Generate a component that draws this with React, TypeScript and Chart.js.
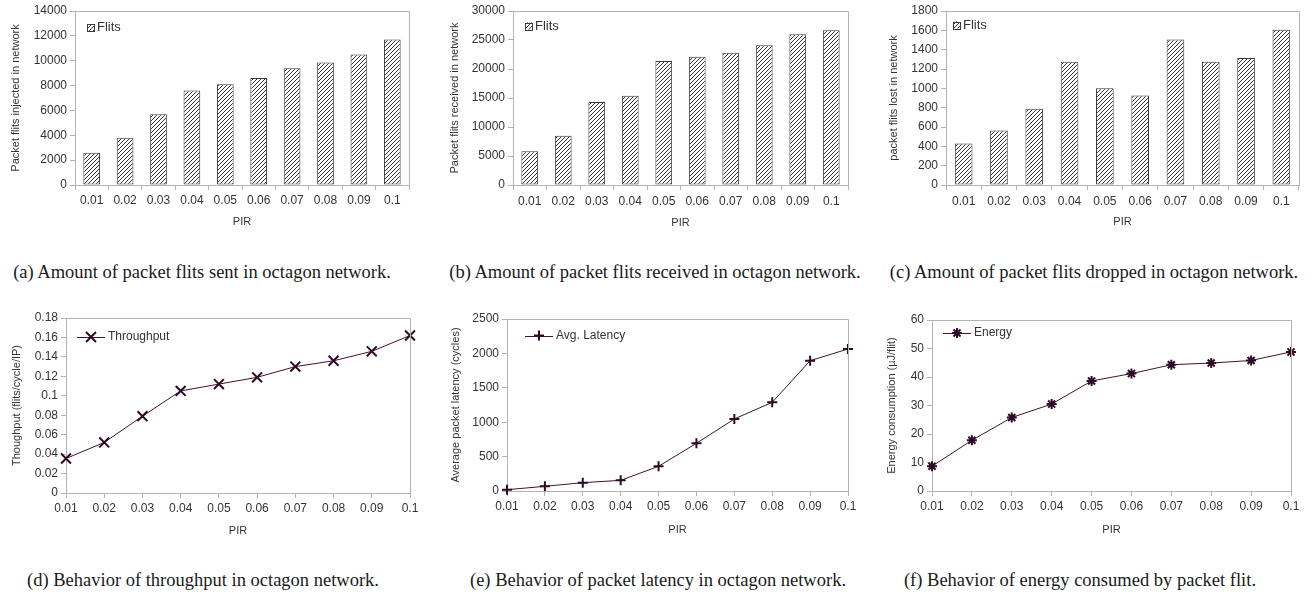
import React, { useEffect, useRef } from 'react';
import { Chart, registerables } from 'chart.js';

Chart.register(...registerables);

// ---------------- data ----------------
const PIR_LABELS = ['0.01', '0.02', '0.03', '0.04', '0.05', '0.06', '0.07', '0.08', '0.09', '0.1'];
const FLITS_SENT = [2600, 3800, 5700, 7600, 8100, 8600, 9400, 9850, 10500, 11700];
const FLITS_RECEIVED = [5800, 8500, 14300, 15400, 21400, 22100, 22800, 24100, 26000, 26700];
const FLITS_DROPPED = [430, 565, 790, 1275, 1000, 925, 1505, 1275, 1315, 1605];
const THROUGHPUT = [0.0355, 0.052, 0.079, 0.105, 0.112, 0.119, 0.13, 0.136, 0.1457, 0.162];
const LATENCY = [19, 68, 121, 155, 359, 693, 1047, 1289, 1894, 2064];
const ENERGY = [8.7, 17.8, 25.8, 30.5, 38.6, 41.2, 44.3, 44.9, 45.8, 48.8];

const CAPTIONS = [
  '(a) Amount of packet flits sent in octagon network.',
  '(b) Amount of packet flits received in octagon network.',
  '(c) Amount of packet flits dropped in octagon network.',
  '(d) Behavior of throughput in octagon network.',
  '(e) Behavior of packet latency in octagon network.',
  '(f) Behavior of energy consumed by packet flit.',
];

// ---------------- style ----------------
const FONT = '"Liberation Sans", Arial, sans-serif';
const SERIF = '"Liberation Serif", "Times New Roman", serif';
const TXT = '#333333';
const AXIS = '#b3b3b3';
const BAR_EDGE = '#3a3a3a';
const LINE = '#3d1432';
const MARK = '#2e0a24';

type Box = { x: number; y: number; w: number; h: number };
type Plot = { l: number; t: number; r: number; b: number };
type Spec = {
  kind: 'bar' | 'line';
  data: number[];
  label: string;
  yTitle: string;
  yMax: number;
  yStep: number;
  marker?: 'crossRot' | 'cross' | 'star';
  markerRadius?: number;
  legendSize: number;
  canvas: Box;
  plot: Plot;
  yTitleX: number;
  xLabelY: number;
  xTitleY: number;
  legend: { x: number; y: number };
};

const SPECS: Spec[] = [
  {
    kind: 'bar', data: FLITS_SENT, label: 'Flits', yTitle: 'Packet flits injected in network',
    yMax: 14000, yStep: 2000, legendSize: 13,
    canvas: { x: 0, y: 0, w: 425, h: 240 }, plot: { l: 75, t: 11, r: 409, b: 185 },
    yTitleX: 16, xLabelY: 201, xTitleY: 222, legend: { x: 87, y: 27.5 },
  },
  {
    kind: 'bar', data: FLITS_RECEIVED, label: 'Flits', yTitle: 'Packet flits received in network',
    yMax: 30000, yStep: 5000, legendSize: 13,
    canvas: { x: 430, y: 0, w: 432, h: 240 }, plot: { l: 513, t: 11, r: 848, b: 185 },
    yTitleX: 455, xLabelY: 201.5, xTitleY: 223, legend: { x: 525, y: 26 },
  },
  {
    kind: 'bar', data: FLITS_DROPPED, label: 'Flits', yTitle: 'packet flits lost in network',
    yMax: 1800, yStep: 200, legendSize: 13,
    canvas: { x: 870, y: 0, w: 442, h: 240 }, plot: { l: 946, t: 11, r: 1299, b: 185 },
    yTitleX: 893.5, xLabelY: 201.5, xTitleY: 222, legend: { x: 953, y: 25 },
  },
  {
    kind: 'line', data: THROUGHPUT, label: 'Throughput', yTitle: 'Thoughput (flits/cycle/IP)',
    yMax: 0.18, yStep: 0.02, marker: 'crossRot', markerRadius: 7, legendSize: 12,
    canvas: { x: 0, y: 300, w: 425, h: 245 }, plot: { l: 66, t: 318, r: 410, b: 493 },
    yTitleX: 16.5, xLabelY: 509, xTitleY: 530.5, legend: { x: 77, y: 337 },
  },
  {
    kind: 'line', data: LATENCY, label: 'Avg. Latency', yTitle: 'Average packet latency (cycles)',
    yMax: 2500, yStep: 500, marker: 'cross', markerRadius: 5, legendSize: 12,
    canvas: { x: 430, y: 300, w: 432, h: 245 }, plot: { l: 507, t: 319, r: 848, b: 491 },
    yTitleX: 455.5, xLabelY: 507, xTitleY: 529.5, legend: { x: 525, y: 335.5 },
  },
  {
    kind: 'line', data: ENERGY, label: 'Energy', yTitle: 'Energy consumption (µJ/flit)',
    yMax: 60, yStep: 10, marker: 'star', markerRadius: 5, legendSize: 12,
    canvas: { x: 870, y: 300, w: 442, h: 245 }, plot: { l: 932, t: 320, r: 1291, b: 491 },
    yTitleX: 892, xLabelY: 507, xTitleY: 529.5, legend: { x: 943, y: 333 },
  },
];

const CAPTION_POS = [
  { cx: 202, cy: 272 },
  { cx: 655, cy: 272 },
  { cx: 1094, cy: 272 },
  { cx: 203, cy: 580 },
  { cx: 658, cy: 580 },
  { cx: 1080, cy: 580 },
];

function makeHatch(): CanvasPattern | string {
  const s = 4;
  const c = document.createElement('canvas');
  c.width = s;
  c.height = s;
  const g = c.getContext('2d');
  if (!g) return '#ffffff';
  g.fillStyle = '#ffffff';
  g.fillRect(0, 0, s, s);
  g.strokeStyle = '#333333';
  g.lineWidth = 1;
  g.beginPath();
  g.moveTo(0, s);
  g.lineTo(s, 0);
  g.moveTo(-1, 1);
  g.lineTo(1, -1);
  g.moveTo(s - 1, s + 1);
  g.lineTo(s + 1, s - 1);
  g.stroke();
  return g.createPattern(c, 'repeat') || '#ffffff';
}

function drawMarker(ctx: CanvasRenderingContext2D, style: string, x: number, y: number, r: number) {
  ctx.beginPath();
  if (style === 'cross' || style === 'star') {
    ctx.moveTo(x - r, y);
    ctx.lineTo(x + r, y);
    ctx.moveTo(x, y - r);
    ctx.lineTo(x, y + r);
  }
  if (style === 'crossRot' || style === 'star') {
    const d = r * Math.SQRT1_2;
    ctx.moveTo(x - d, y - d);
    ctx.lineTo(x + d, y + d);
    ctx.moveTo(x + d, y - d);
    ctx.lineTo(x - d, y + d);
  }
  ctx.stroke();
}

function fmt(v: number | string): string {
  return String(parseFloat(Number(v).toFixed(4)));
}

function buildConfig(spec: Spec, hatch: CanvasPattern | string): any {
  const { canvas, plot } = spec;
  const yW = plot.l - canvas.x;
  const xH = canvas.y + canvas.h - plot.b;
  const tickLen = 5;
  const xTickPad = spec.xLabelY - plot.b - tickLen - 7.2;
  const yTitlePad = spec.yTitleX - canvas.x - 6.6;
  const xTitlePad = canvas.y + canvas.h - spec.xTitleY - 6.6;
  const isBar = spec.kind === 'bar';

  const decor = {
    id: 'panelDecor',
    afterDraw(chart: any) {
      const ctx: CanvasRenderingContext2D = chart.ctx;
      const a = chart.chartArea;
      ctx.save();
      ctx.strokeStyle = AXIS;
      ctx.lineWidth = 1;
      const t = Math.round(a.top) + 0.5;
      const r = Math.round(a.right) + 0.5;
      ctx.beginPath();
      ctx.moveTo(Math.round(a.left), t);
      ctx.lineTo(r, t);
      ctx.lineTo(r, Math.round(a.bottom));
      ctx.stroke();

      const lx = spec.legend.x - canvas.x;
      const ly = spec.legend.y - canvas.y;
      ctx.font = `${spec.legendSize}px ${FONT}`;
      ctx.textBaseline = 'middle';
      ctx.textAlign = 'left';
      if (isBar) {
        ctx.fillStyle = hatch as any;
        ctx.fillRect(lx, ly - 3.5, 7, 7);
        ctx.strokeStyle = BAR_EDGE;
        ctx.strokeRect(Math.round(lx) + 0.5, Math.round(ly - 3.5) + 0.5, 7, 7);
        ctx.fillStyle = TXT;
        ctx.fillText(spec.label, lx + 10, ly);
      } else {
        ctx.strokeStyle = LINE;
        ctx.lineWidth = 1;
        ctx.beginPath();
        ctx.moveTo(lx, Math.round(ly) + 0.5);
        ctx.lineTo(lx + 28, Math.round(ly) + 0.5);
        ctx.stroke();
        ctx.strokeStyle = MARK;
        ctx.lineWidth = 2;
        drawMarker(ctx, spec.marker || 'cross', lx + 14, ly, spec.markerRadius || 5);
        ctx.fillStyle = TXT;
        ctx.fillText(spec.label, lx + 31, ly);
      }
      ctx.restore();
    },
  };

  const dataset: any = isBar
    ? {
        label: spec.label,
        data: spec.data,
        backgroundColor: hatch,
        borderColor: BAR_EDGE,
        borderWidth: 1,
        borderSkipped: false,
        barPercentage: 0.5,
        categoryPercentage: 1,
      }
    : {
        label: spec.label,
        data: spec.data,
        borderColor: LINE,
        borderWidth: 1,
        tension: 0,
        pointStyle: spec.marker,
        pointRadius: spec.markerRadius,
        pointBorderColor: MARK,
        pointBackgroundColor: MARK,
        pointBorderWidth: 2,
        clip: false,
      };

  return {
    type: spec.kind,
    data: { labels: PIR_LABELS, datasets: [dataset] },
    options: {
      responsive: false,
      maintainAspectRatio: false,
      animation: false,
      devicePixelRatio: 1,
      events: [],
      layout: {
        padding: { top: plot.t - canvas.y, right: canvas.x + canvas.w - plot.r, left: 0, bottom: 0 },
      },
      plugins: {
        legend: { display: false },
        tooltip: { enabled: false },
        title: { display: false },
      },
      scales: {
        x: {
          type: 'category',
          offset: isBar,
          grid: {
            display: true,
            drawOnChartArea: false,
            drawTicks: true,
            tickLength: tickLen,
            color: AXIS,
            offset: isBar,
          },
          border: { display: true, color: AXIS, width: 1 },
          ticks: {
            color: TXT,
            font: { family: FONT, size: 12 },
            padding: xTickPad,
            maxRotation: 0,
            minRotation: 0,
            autoSkip: false,
          },
          title: {
            display: true,
            text: 'PIR',
            color: TXT,
            font: { family: FONT, size: 11 },
            padding: { top: 0, bottom: xTitlePad },
          },
          afterFit: (s: any) => {
            s.height = xH;
          },
        },
        y: {
          type: 'linear',
          min: 0,
          max: spec.yMax,
          grid: {
            display: true,
            drawOnChartArea: false,
            drawTicks: true,
            tickLength: tickLen,
            color: AXIS,
          },
          border: { display: true, color: AXIS, width: 1 },
          ticks: {
            stepSize: spec.yStep,
            color: TXT,
            font: { family: FONT, size: 12 },
            padding: 3,
            callback: (v: number | string) => fmt(v),
          },
          title: {
            display: true,
            text: spec.yTitle,
            color: TXT,
            font: { family: FONT, size: 11 },
            padding: { top: yTitlePad, bottom: 0 },
          },
          afterFit: (s: any) => {
            s.width = yW;
          },
        },
      },
    },
    plugins: [decor],
  };
}

function Panel({ spec }: { spec: Spec }) {
  const ref = useRef<HTMLCanvasElement | null>(null);
  useEffect(() => {
    const canvas = ref.current;
    if (!canvas) return;
    const hatch = makeHatch();
    const chart = new Chart(canvas, buildConfig(spec, hatch));
    return () => chart.destroy();
  }, [spec]);
  const c = spec.canvas;
  return (
    <canvas
      ref={ref}
      width={c.w}
      height={c.h}
      style={{ position: 'absolute', left: c.x, top: c.y, width: c.w, height: c.h, display: 'block' }}
    />
  );
}

export default function App() {
  return (
    <div
      style={{
        position: 'absolute',
        left: 0,
        top: 0,
        width: 1312,
        height: 595,
        background: '#ffffff',
        overflow: 'hidden',
      }}
    >
      {SPECS.map((s, i) => (
        <Panel key={i} spec={s} />
      ))}
      {CAPTIONS.map((text, i) => (
        <div
          key={'cap' + i}
          style={{
            position: 'absolute',
            left: CAPTION_POS[i].cx - 230,
            top: CAPTION_POS[i].cy - 11,
            width: 460,
            height: 22,
            lineHeight: '22px',
            textAlign: 'center',
            fontFamily: SERIF,
            fontSize: 18.5,
            color: '#1a1a1a',
            whiteSpace: 'nowrap',
          }}
        >
          {text}
        </div>
      ))}
    </div>
  );
}
